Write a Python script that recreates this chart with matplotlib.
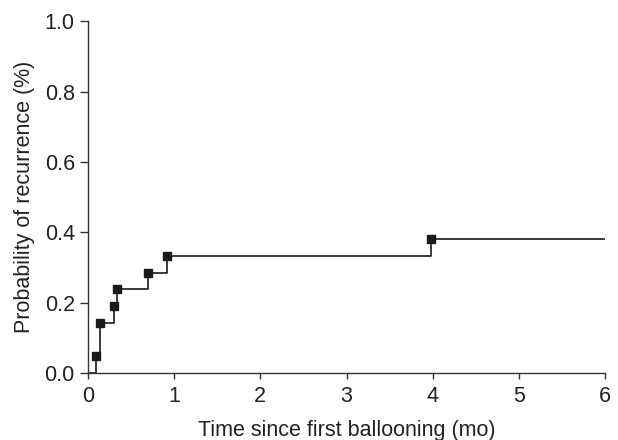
import matplotlib
matplotlib.use("Agg")
import matplotlib.pyplot as plt

plt.rcParams['font.family'] = ['Liberation Sans', 'DejaVu Sans']

# Event times (months) and cumulative probability of recurrence
event_times = [0.09, 0.135, 0.30, 0.34, 0.70, 0.92, 3.98]
cum_prob = [1/21, 3/21, 4/21, 5/21, 6/21, 7/21, 8/21]
end_time = 6.0

x_ticks = [0, 1, 2, 3, 4, 5, 6]
y_ticks = [0.0, 0.2, 0.4, 0.6, 0.8, 1.0]
y_tick_labels = ["0.0", "0.2", "0.4", "0.6", "0.8", "1.0"]

fig = plt.figure(figsize=(6.18, 4.4), dpi=100)
ax = fig.add_axes([0.1424, 0.152, 0.8366, 0.8])

xs = [0.0] + event_times + [end_time]
ys = [0.0] + cum_prob + [cum_prob[-1]]
ax.step(xs, ys, where='post', color='#1a1a1a', lw=1.2)
ax.plot(event_times, cum_prob, linestyle='none', marker='s', markersize=6,
        color='#1a1a1a')

ax.set_xlim(0, 6)
ax.set_ylim(0, 1.0)
ax.set_xticks(x_ticks)
ax.set_yticks(y_ticks)
ax.set_yticklabels(y_tick_labels)
for s in ['top', 'right']:
    ax.spines[s].set_visible(False)
for s in ['left', 'bottom']:
    ax.spines[s].set_color('#333333')
    ax.spines[s].set_linewidth(1.0)
ax.tick_params(axis='x', direction='out', length=4.5, width=1.0, color='#333333',
               labelsize=15.5, labelcolor='#222222', pad=5)
ax.tick_params(axis='y', direction='out', length=6, width=1.0, color='#333333',
               labelsize=15.5, labelcolor='#222222', pad=3.5)
ax.set_xlabel('Time since first ballooning (mo)', fontsize=15.5, color='#222222', labelpad=9)
ax.set_ylabel('Probability of recurrence (%)', fontsize=15.5, color='#222222', labelpad=7)

fig.savefig('out.png', dpi=100)
